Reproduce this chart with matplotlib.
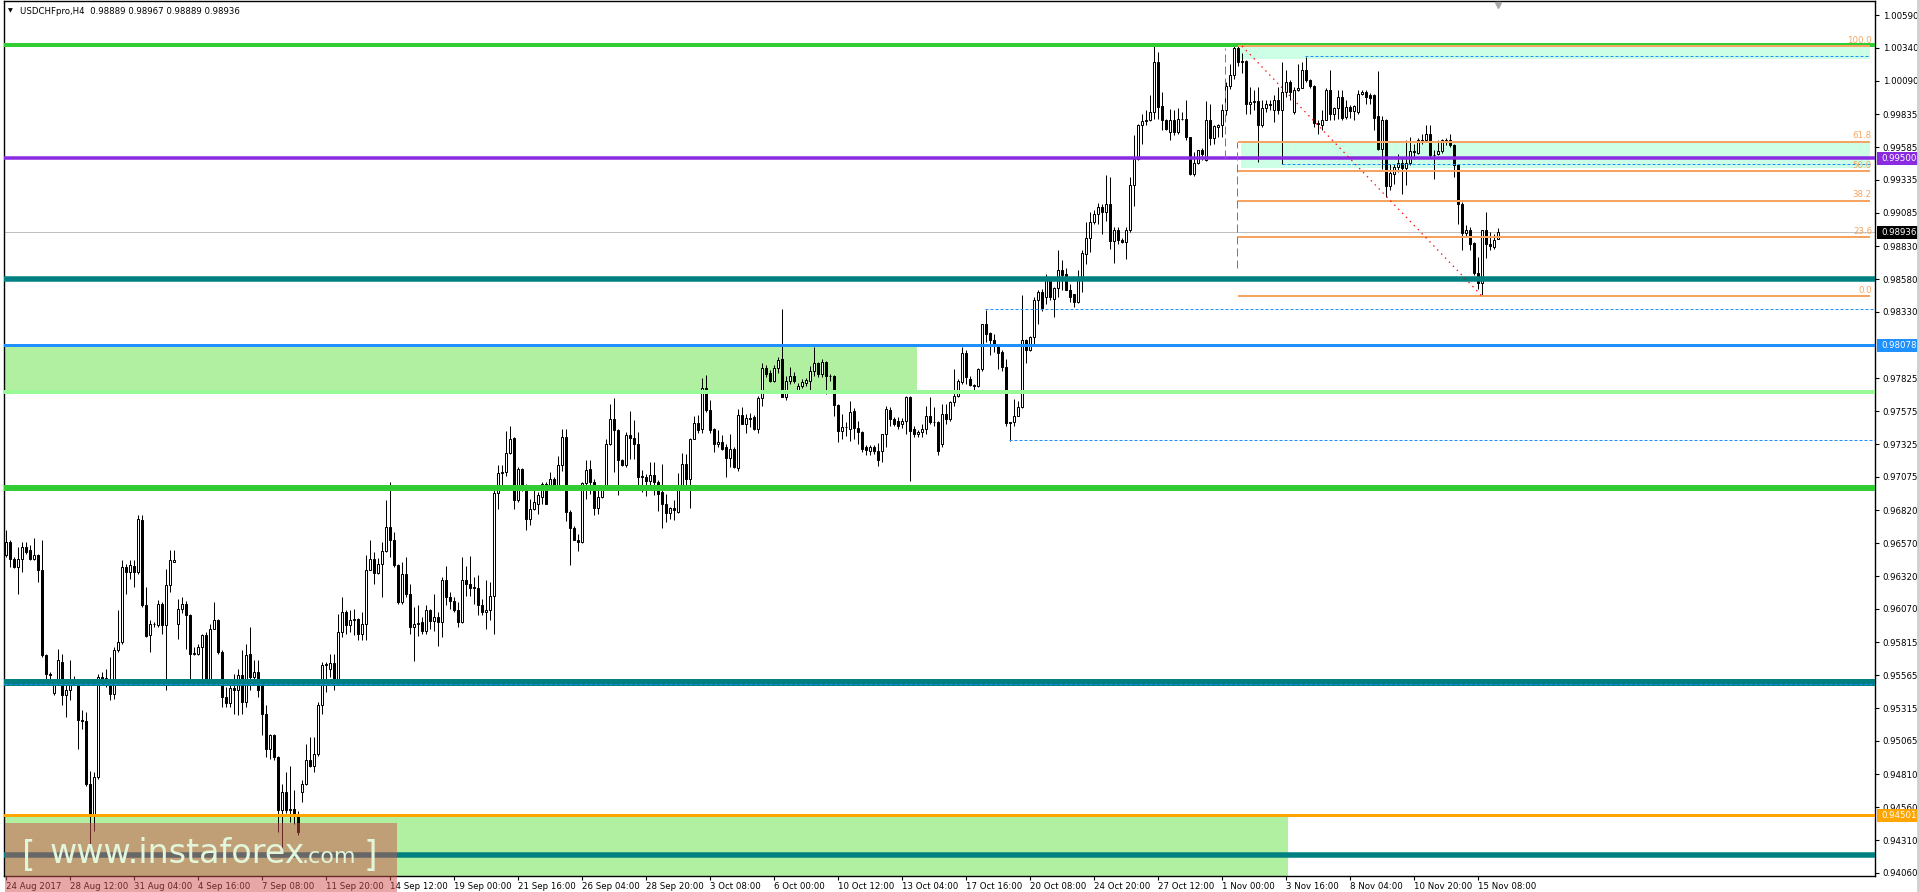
import numpy as np
import matplotlib
matplotlib.use('Agg')
import matplotlib.pyplot as plt
import matplotlib.transforms as mtransforms
from matplotlib.patches import Rectangle
from matplotlib.lines import Line2D

W, H, DPI = 1920, 892, 100

# USDCHFpro H4 candles, prices x 1e5
opens = [
    96479, 96580, 96453, 96390, 96453, 96542, 96517, 96453, 96479, 96369,
    95717, 95577, 95430, 95526, 95666, 95412, 95450, 95539, 95513, 95221,
    95215, 94739, 94510, 94789, 95551, 95546, 95513, 95424, 95755, 95818,
    96390, 96352, 96395, 96352, 96750, 96098, 95869, 95953, 95945, 96110,
    95950, 96250, 96430, 95953, 96072, 96105, 96022, 95729, 95729, 95780,
    95869, 95513, 95920, 95983, 95742, 95399, 95353, 95470, 95450, 95564,
    95361, 95729, 95551, 95590, 95488, 95272, 95000, 95107, 94942, 94536,
    94675, 94536, 94550, 94510, 94675, 94739, 94917, 94878, 94967, 95336,
    95640, 95615, 95660, 95539, 95894, 96047, 95945, 95983, 95996, 95876,
    95958, 96369, 96453, 96344, 96410, 96512, 96694, 96593, 96402, 96121,
    96337, 96185, 95931, 95956, 95969, 95905, 96058, 95976, 96007, 95969,
    96287, 96159, 96129, 96065, 95969, 96292, 96256, 96235, 96230, 96096,
    96045, 96058, 96165, 96952, 97104, 97112, 97257, 97371, 96901, 97137,
    97010, 96756, 96833, 96871, 96921, 97018, 96985, 97061, 96998, 97163,
    97379, 96807, 96688, 96596, 96578, 97028, 97137, 97036, 96840, 96921,
    96992, 97323, 97518, 97430, 97201, 97168, 97396, 97374, 97328, 97079,
    97074, 97043, 97087, 97036, 96960, 96871, 96800, 96840, 96807, 97003,
    97176, 97061, 97366, 97485, 97442, 97755, 97587, 97442, 97328, 97338,
    97303, 97221, 97290, 97145, 97544, 97480, 97524, 97531, 97442, 97678,
    97907, 97866, 97805, 97907, 97973, 97686, 97808, 97846, 97737, 97770,
    97790, 97808, 97884, 97943, 97859, 97948, 97846, 97840, 97625, 97427,
    97457, 97440, 97574, 97447, 97414, 97305, 97275, 97305, 97275, 97275,
    97402, 97584, 97516, 97500, 97478, 97503, 97681, 97440, 97402, 97414,
    97440, 97541, 97490, 97490, 97325, 97554, 97516, 97643, 97694, 97795,
    98016, 97821, 97778, 97770, 97897, 98235, 98169, 98113, 98087, 98024,
    97915, 97483, 97490, 97541, 97605, 98113, 98042, 98143, 98423, 98481,
    98443, 98583, 98430, 98514, 98646, 98621, 98499, 98468, 98405, 98570,
    98773, 98895, 99014, 99073, 99129, 99091, 99149, 98870, 98956, 98875,
    98862, 98951, 99294, 99497, 99751, 99784, 99789, 99853, 100234, 99896,
    99794, 99700, 99794, 99700, 99802, 99800, 99662, 99383, 99464, 99561,
    99484, 99789, 99657, 99738, 99751, 99866, 100048, 100132, 100340, 100234,
    100241, 99916, 99929, 99937, 99751, 99886, 99911, 99865, 99947, 99865,
    100005, 100081, 99853, 100018, 100038, 100170, 100094, 100048, 99769, 99751,
    99794, 100023, 99840, 99886, 99967, 99815, 99891, 99860, 99853, 99987,
    100005, 99980, 99980, 99820, 99573, 99794, 99289, 99383, 99434, 99464,
    99429, 99464, 99556, 99540, 99642, 99637, 99683, 99522, 99530, 99556,
    99632, 99637, 99599, 99446, 99154, 98931, 98956, 98855, 98626, 98550,
    98951, 98849, 98824, 98889,
]
highs = [
    96669, 96593, 96466, 96542, 96580, 96580, 96555, 96606, 96491, 96593,
    95730, 95590, 95539, 95767, 95729, 95500, 95678, 95560, 95526, 95297,
    95285, 94840, 94827, 95577, 95590, 95615, 95704, 95780, 96059, 96440,
    96415, 96440, 96440, 96783, 96783, 96237, 95983, 95971, 96136, 96123,
    96377, 96517, 96517, 96148, 96161, 96130, 96034, 95780, 95806, 95882,
    95894, 95958, 96123, 95996, 95755, 95475, 95488, 95577, 95615, 95755,
    95806, 95933, 95678, 95678, 95513, 95336, 95120, 95120, 94950, 94739,
    94827, 94878, 94688, 94530, 94764, 95043, 95094, 95094, 95361, 95666,
    95666, 95729, 95729, 96034, 96161, 96059, 96059, 96072, 96000, 96047,
    96478, 96593, 96504, 96461, 96580, 96898, 97037, 96657, 96415, 96426,
    96464, 96261, 96083, 96096, 96007, 96096, 96071, 96185, 96045, 96312,
    96393, 96198, 96159, 96121, 96464, 96393, 96470, 96312, 96325, 96147,
    96287, 96274, 96975, 97163, 97163, 97424, 97460, 97379, 97150, 97145,
    97018, 96909, 96998, 96960, 97036, 97036, 97112, 97074, 97231, 97442,
    97442, 96820, 96698, 96642, 97036, 97201, 97201, 97061, 97010, 96998,
    97366, 97628, 97678, 97442, 97213, 97417, 97577, 97506, 97417, 97125,
    97099, 97188, 97188, 97048, 97176, 96947, 96845, 96901, 97104, 97259,
    97250, 97374, 97536, 97544, 97831, 97849, 97663, 97450, 97435, 97391,
    97323, 97399, 97303, 97594, 97607, 97556, 97562, 97544, 97689, 97943,
    97925, 97887, 97925, 97988, 98354, 97846, 97910, 97870, 97790, 97820,
    97830, 97922, 98062, 97948, 97973, 97960, 97859, 97850, 97630, 97554,
    97490, 97656, 97600, 97503, 97427, 97320, 97320, 97320, 97330, 97402,
    97618, 97605, 97529, 97529, 97520, 97690, 97694, 97460, 97430, 97478,
    97618, 97681, 97605, 97500, 97630, 97630, 97656, 97897, 97821, 98062,
    98037, 97840, 97783, 97905, 98240, 98346, 98176, 98164, 98090, 98037,
    97973, 97495, 97668, 97656, 98463, 98125, 98150, 98443, 98499, 98507,
    98621, 98600, 98519, 98799, 98728, 98667, 98545, 98470, 98646, 98804,
    99014, 99091, 99103, 99159, 99154, 99370, 99357, 98976, 98976, 98890,
    98976, 99357, 99675, 99764, 99840, 99865, 99980, 100361, 100310, 100005,
    99800, 99878, 99865, 99886, 99853, 99947, 99665, 99548, 99565, 99580,
    99937, 99911, 99751, 99760, 99911, 100081, 100221, 100354, 100354, 100300,
    100246, 100043, 100018, 100043, 99942, 99942, 99942, 99980, 100043, 100234,
    100175, 100094, 100043, 100221, 100234, 100272, 100107, 100056, 99794, 99865,
    100031, 100170, 99891, 100018, 100018, 99942, 99904, 99904, 100018, 100018,
    100018, 99995, 99987, 100165, 99820, 99800, 99459, 99459, 99535, 99510,
    99637, 99662, 99611, 99657, 99688, 99751, 99751, 99561, 99637, 99650,
    99657, 99688, 99606, 99459, 99167, 98989, 98976, 98862, 98748, 98956,
    99091, 98938, 98926, 98967,
]
lows = [
    96466, 96390, 96380, 96187, 96352, 96490, 96440, 96440, 96275, 95704,
    95501, 95501, 95412, 95501, 95336, 95247, 95374, 95490, 95000, 95158,
    94720, 94269, 94383, 94777, 95488, 95475, 95374, 95386, 95742, 95806,
    96187, 96301, 96237, 96339, 96085, 95856, 95742, 95933, 95933, 95882,
    95450, 96199, 96428, 95844, 96040, 95767, 95513, 95717, 95717, 95513,
    95501, 95501, 95920, 95729, 95323, 95323, 95323, 95272, 95260, 95272,
    95323, 95450, 95501, 95399, 95107, 94942, 94930, 94917, 94370, 94193,
    94520, 94447, 94434, 94350, 94600, 94726, 94866, 94827, 94954, 95272,
    95437, 95551, 95450, 95526, 95856, 95882, 95894, 95869, 95831, 95831,
    95831, 96364, 96263, 96339, 96161, 96504, 96466, 96390, 96110, 96108,
    96159, 95880, 95677, 95867, 95880, 95880, 95918, 95905, 95791, 95855,
    96096, 96071, 96045, 95931, 95961, 96172, 96165, 96104, 96020, 96020,
    95918, 95982, 95880, 96833, 97010, 97079, 97252, 96833, 96883, 96967,
    96668, 96706, 96820, 96794, 96871, 96866, 96980, 96985, 96985, 97120,
    96738, 96401, 96591, 96510, 96570, 96909, 96947, 96782, 96794, 96916,
    96977, 97315, 97112, 96934, 97155, 97150, 97213, 97213, 97010, 96960,
    96927, 96998, 96934, 96814, 96688, 96731, 96756, 96749, 96800, 96972,
    97000, 96840, 97360, 97409, 97409, 97570, 97409, 97264, 97303, 97282,
    97074, 97150, 97140, 97120, 97475, 97409, 97455, 97435, 97409, 97612,
    97836, 97795, 97800, 97866, 97681, 97660, 97783, 97790, 97720, 97750,
    97770, 97737, 97846, 97833, 97833, 97706, 97808, 97541, 97338, 97364,
    97389, 97351, 97364, 97325, 97262, 97240, 97240, 97250, 97160, 97190,
    97300, 97465, 97465, 97440, 97450, 97402, 97043, 97380, 97380, 97376,
    97402, 97478, 97465, 97240, 97300, 97478, 97503, 97618, 97681, 97783,
    97783, 97770, 97719, 97760, 97884, 98100, 97999, 98024, 97897, 97884,
    97465, 97351, 97465, 97535, 97600, 97940, 98032, 98075, 98240, 98341,
    98392, 98420, 98291, 98443, 98494, 98494, 98405, 98367, 98400, 98481,
    98697, 98786, 99002, 99002, 98926, 99022, 98811, 98700, 98849, 98855,
    98735, 98938, 99134, 99490, 99611, 99751, 99780, 99802, 99802, 99713,
    99713, 99637, 99675, 99683, 99789, 99637, 99370, 99362, 99459, 99484,
    99480, 99599, 99611, 99662, 99662, 99827, 100030, 100100, 100200, 100150,
    99840, 99840, 99865, 99472, 99738, 99853, 99865, 99777, 99840, 99459,
    99967, 99942, 99840, 100010, 100031, 100081, 100038, 99738, 99683, 99713,
    99789, 99789, 99789, 99802, 99789, 99802, 99810, 99795, 99840, 99980,
    99916, 99916, 99713, 99566, 99421, 99205, 99256, 99307, 99396, 99230,
    99294, 99446, 99497, 99535, 99611, 99624, 99510, 99345, 99522, 99540,
    99599, 99586, 99357, 99002, 98799, 98900, 98799, 98615, 98507, 98451,
    98743, 98799, 98811, 98889,
]
closes = [
    96580, 96453, 96390, 96453, 96542, 96504, 96453, 96479, 96369, 95717,
    95577, 95564, 95526, 95678, 95412, 95450, 95539, 95501, 95221, 95215,
    94739, 94510, 94789, 95551, 95513, 95488, 95424, 95755, 95818, 96390,
    96352, 96402, 96352, 96758, 96098, 95861, 95953, 95958, 96110, 95950,
    96250, 96440, 96440, 96072, 96105, 96022, 95729, 95734, 95780, 95869,
    95513, 95920, 95983, 95742, 95399, 95353, 95470, 95450, 95564, 95361,
    95717, 95551, 95590, 95450, 95272, 95000, 95107, 94942, 94536, 94675,
    94536, 94550, 94510, 94370, 94739, 94917, 94878, 94967, 95336, 95640,
    95653, 95660, 95539, 95894, 96047, 95945, 95983, 95996, 95876, 95958,
    96369, 96453, 96344, 96415, 96512, 96694, 96593, 96402, 96123, 96337,
    96185, 95931, 95956, 95962, 95905, 96058, 95976, 96007, 95969, 96287,
    96159, 96129, 96058, 95969, 96287, 96256, 96230, 96230, 96096, 96045,
    96058, 96165, 96952, 97104, 97112, 97257, 97366, 96901, 97137, 97010,
    96756, 96833, 96883, 96934, 97023, 96871, 97061, 96998, 97163, 97379,
    96807, 96688, 96596, 96578, 97028, 97130, 97036, 96840, 96921, 96992,
    97323, 97518, 97430, 97201, 97168, 97396, 97374, 97328, 97074, 97074,
    97043, 97087, 97036, 96947, 96871, 96800, 96840, 96825, 97003, 97176,
    97061, 97366, 97485, 97435, 97755, 97582, 97435, 97328, 97338, 97290,
    97221, 97290, 97150, 97544, 97480, 97524, 97518, 97442, 97678, 97907,
    97856, 97805, 97907, 97968, 97686, 97808, 97846, 97803, 97770, 97795,
    97813, 97884, 97943, 97859, 97948, 97846, 97840, 97625, 97427, 97457,
    97452, 97567, 97447, 97414, 97287, 97280, 97300, 97275, 97200, 97402,
    97592, 97516, 97478, 97465, 97503, 97681, 97427, 97402, 97414, 97440,
    97541, 97490, 97495, 97275, 97554, 97516, 97643, 97694, 97808, 98016,
    97833, 97778, 97770, 97897, 98235, 98164, 98113, 98087, 98016, 97915,
    97483, 97490, 97541, 97605, 98113, 98042, 98143, 98423, 98481, 98362,
    98583, 98443, 98514, 98646, 98608, 98499, 98443, 98405, 98570, 98778,
    98895, 99014, 99073, 99129, 99091, 99149, 98870, 98956, 98875, 98862,
    98951, 99294, 99497, 99751, 99784, 99789, 99853, 100234, 99891, 99789,
    99726, 99794, 99700, 99802, 99800, 99662, 99383, 99464, 99561, 99530,
    99789, 99657, 99743, 99751, 99866, 100048, 100132, 100340, 100234, 100241,
    99916, 99929, 99937, 99751, 99886, 99911, 99904, 99947, 99865, 100005,
    100081, 100005, 100018, 100038, 100170, 100094, 100048, 99769, 99764, 99794,
    100023, 99835, 99886, 99967, 99810, 99891, 99860, 99896, 99987, 100005,
    99967, 99959, 99810, 99573, 99794, 99289, 99388, 99434, 99464, 99429,
    99464, 99556, 99550, 99642, 99624, 99683, 99522, 99525, 99556, 99637,
    99637, 99599, 99446, 99154, 98931, 98956, 98849, 98626, 98550, 98951,
    98849, 98834, 98880, 98936,
]

date_labels = ['24 Aug 2017', '28 Aug 12:00', '31 Aug 04:00', '4 Sep 16:00', '7 Sep 08:00',
               '11 Sep 20:00', '14 Sep 12:00', '19 Sep 00:00', '21 Sep 16:00', '26 Sep 04:00',
               '28 Sep 20:00', '3 Oct 08:00', '6 Oct 00:00', '10 Oct 12:00', '13 Oct 04:00',
               '17 Oct 16:00', '20 Oct 08:00', '24 Oct 20:00', '27 Oct 12:00', '1 Nov 00:00',
               '3 Nov 16:00', '8 Nov 04:00', '10 Nov 20:00', '15 Nov 08:00']
bars_per_label = 16

price_ticks = [1.00590, 1.00340, 1.00090, 0.99835, 0.99585, 0.99335, 0.99085, 0.98830,
               0.98580, 0.98330, 0.97825, 0.97575, 0.97325, 0.97075, 0.96820, 0.96570,
               0.96320, 0.96070, 0.95815, 0.95565, 0.95315, 0.95065, 0.94810, 0.94560,
               0.94310, 0.94060]

# horizontal levels: (price, colour, width px)
levels = [
    (1.00362, '#32cd32', 4.0),
    (0.99500, '#8a2be2', 3.5),
    (0.98580, '#008080', 5.5),
    (0.98078, '#1e90ff', 3.0),
    (0.97721, '#98fb98', 4.0),
    (0.96990, '#32cd32', 6.0),
    (0.95514, '#008080', 7.0),
    (0.94501, '#ffa500', 3.0),
    (0.94197, '#008080', 5.5),
]
last_price = 0.98936

# price boxes on the right scale
price_boxes = [(0.99500, '#8a2be2'), (last_price, '#000000'),
               (0.98078, '#1e90ff'), (0.94501, '#ffa500')]

# zones: (bar from, bar to, price low, price high, colour)
zones = [
    (-0.5, 227.75, 0.97721, 0.98078, '#b0f0a0'),
    (-0.5, 320.5, 0.93900, 0.94490, '#b0f0a0'),
    (308.0, 466.0, 1.00255, 1.00354, '#ccffe6'),
    (308.75, 466.0, 0.99426, 0.99616, '#ccffe6'),
]

# blue dotted swing lines: (price, start bar, end bar)
swing_lines = [(1.00278, 324.75, 466.0), (0.99456, 319.0, 466.0),
               (0.98352, 244.75, 467.25), (0.97355, 250.75, 467.25),
               (0.95498, -0.5, 467.25)]

# Fibonacci retracement
fib_high, fib_low = 1.00354, 0.98451
fib_high_bar, fib_low_bar = 309, 369
fib_ratios = [100.0, 61.8, 50.0, 38.2, 23.6, 0.0]
fib_x0, fib_x1 = 308.0, 466.0

# blue dashed vertical markers: (bar, price from, price to)
vmarks = [(304.75, 0.99502, 1.00339), (307.75, 0.98665, 0.99623)]

PX = 0.72  # points per pixel at 100 dpi
o = np.array(opens) / 1e5
h = np.array(highs) / 1e5
l = np.array(lows) / 1e5
c = np.array(closes) / 1e5
n = min(len(o), len(h), len(l), len(c))
o, h, l, c = o[:n], h[:n], l[:n], c[:n]
h = np.maximum(h, np.maximum(o, c))
l = np.minimum(l, np.minimum(o, c))
x = np.arange(n)

y_lo, y_hi = 0.94037, 1.00697
x_lo, x_hi = -0.5, 467.25

fig = plt.figure(figsize=(W / DPI, H / DPI), dpi=DPI)
ax = fig.add_axes([4 / W, 16 / H, 1871 / W, 875 / H])
ax.set_xlim(x_lo, x_hi)
ax.set_ylim(y_lo, y_hi)

for x0, x1, p0, p1, col in zones:
    ax.add_patch(Rectangle((x0, p0), x1 - x0, p1 - p0, facecolor=col, edgecolor='none', zorder=0.5))

# candles
up = c >= o
ax.vlines(x, l, h, color='black', lw=1.0 * PX, zorder=3)
bottom = np.minimum(o, c)
height = np.maximum(np.abs(c - o), 0.000025)
ax.bar(x[up], height[up], bottom=bottom[up], width=0.55, color='white',
       edgecolor='black', linewidth=1.0 * PX, zorder=4)
ax.bar(x[~up], height[~up], bottom=bottom[~up], width=0.55, color='black',
       edgecolor='black', linewidth=1.0 * PX, zorder=4)

ax.axhline(last_price, color='#c0c0c0', lw=1.0 * PX, zorder=2)
for p, col, w in levels:
    ax.axhline(p, color=col, lw=w * PX, zorder=5)

for p, b0, b1 in swing_lines:
    ax.hlines(p, b0, b1, colors='#1e90ff', lw=1.0 * PX, linestyles=(0, (3, 2)), zorder=5.5)

for b, p0, p1 in vmarks:
    ax.vlines(b, p0, p1, colors='#1e90ff', lw=1.0 * PX, linestyles=(0, (8, 4)), zorder=5.5)

fib_col = '#f4a460'
for r in fib_ratios:
    p = fib_low + (fib_high - fib_low) * r / 100.0
    ax.hlines(p, fib_x0, fib_x1, colors=fib_col, lw=2.0 * PX, zorder=5.2)
    ax.text(fib_x1 + 0.5, p + 1.5 / 13139, '%.1f' % r, color=fib_col, fontsize=6.2,
            ha='right', va='bottom', zorder=6)
ax.plot([fib_high_bar, fib_low_bar], [fib_high, fib_low], color='red', lw=1.2 * PX,
        linestyle=(0, (1.2, 3.5)), zorder=6)

# axes look
for s in ax.spines.values():
    s.set_linewidth(1.0)
    s.set_color('black')
ax.yaxis.tick_right()
ax.set_yticks(price_ticks)
ax.set_yticklabels(['%.5f' % t for t in price_ticks])
ax.set_xticks(np.arange(len(date_labels)) * bars_per_label)
ax.set_xticklabels(date_labels, ha='left')
ax.tick_params(axis='y', direction='out', length=3, width=0.8, pad=2.5, labelsize=6.2)
ax.tick_params(axis='x', direction='out', length=3, width=0.8, pad=1.5, labelsize=6.2)

# coloured price boxes on the scale
blend = mtransforms.blended_transform_factory(ax.transAxes, ax.transData)
def ax_x(px):
    return (px - 4) / 1871.0
for p, col in price_boxes:
    ax.add_patch(Rectangle((ax_x(1877), p - 6.5 / 13139), ax_x(1919) - ax_x(1877), 13 / 13139,
                           transform=blend, facecolor=col, edgecolor='none', clip_on=False, zorder=7))
    ax.text(ax_x(1881), p, '%.5f' % p, transform=blend, color='white', fontsize=6.2,
            ha='left', va='center', clip_on=False, zorder=8)

# chart shift marker
ax.plot([n - 1], [y_hi - 4 / 13139], marker='v', ms=5, color='#a8a8a8', clip_on=False, zorder=8)

# title
fig.text(8 / W, 1 - 11 / H, '\u25bc', fontsize=4.5, va='center', ha='left')
fig.text(20 / W, 1 - 11 / H, 'USDCHFpro,H4  0.98889 0.98967 0.98889 0.98936',
         fontsize=6.2, va='center', ha='left')

# watermark
fig.add_artist(Rectangle((5 / W, 0), 392 / W, 69 / H, transform=fig.transFigure,
                         facecolor='#d05050', edgecolor='none', alpha=0.5, zorder=10))
wm = '#e2f6dc'
fig.text(22 / W, 1 - 866 / H, '[', fontsize=25, color=wm, ha='left', va='baseline', zorder=11)
fig.text(50 / W, 1 - 863 / H, 'www.instaforex', fontsize=24, color=wm, ha='left', va='baseline', zorder=11)
fig.text(302 / W, 1 - 863 / H, '.com', fontsize=16, color=wm, ha='left', va='baseline', zorder=11)
fig.text(364 / W, 1 - 866 / H, ']', fontsize=25, color=wm, ha='left', va='baseline', zorder=11)

fig.add_artist(Line2D([1918 / W, 1918 / W], [0, 1], transform=fig.transFigure, color='#cfcfcf', lw=2))

fig.savefig('out.png', dpi=DPI)
print(n)
